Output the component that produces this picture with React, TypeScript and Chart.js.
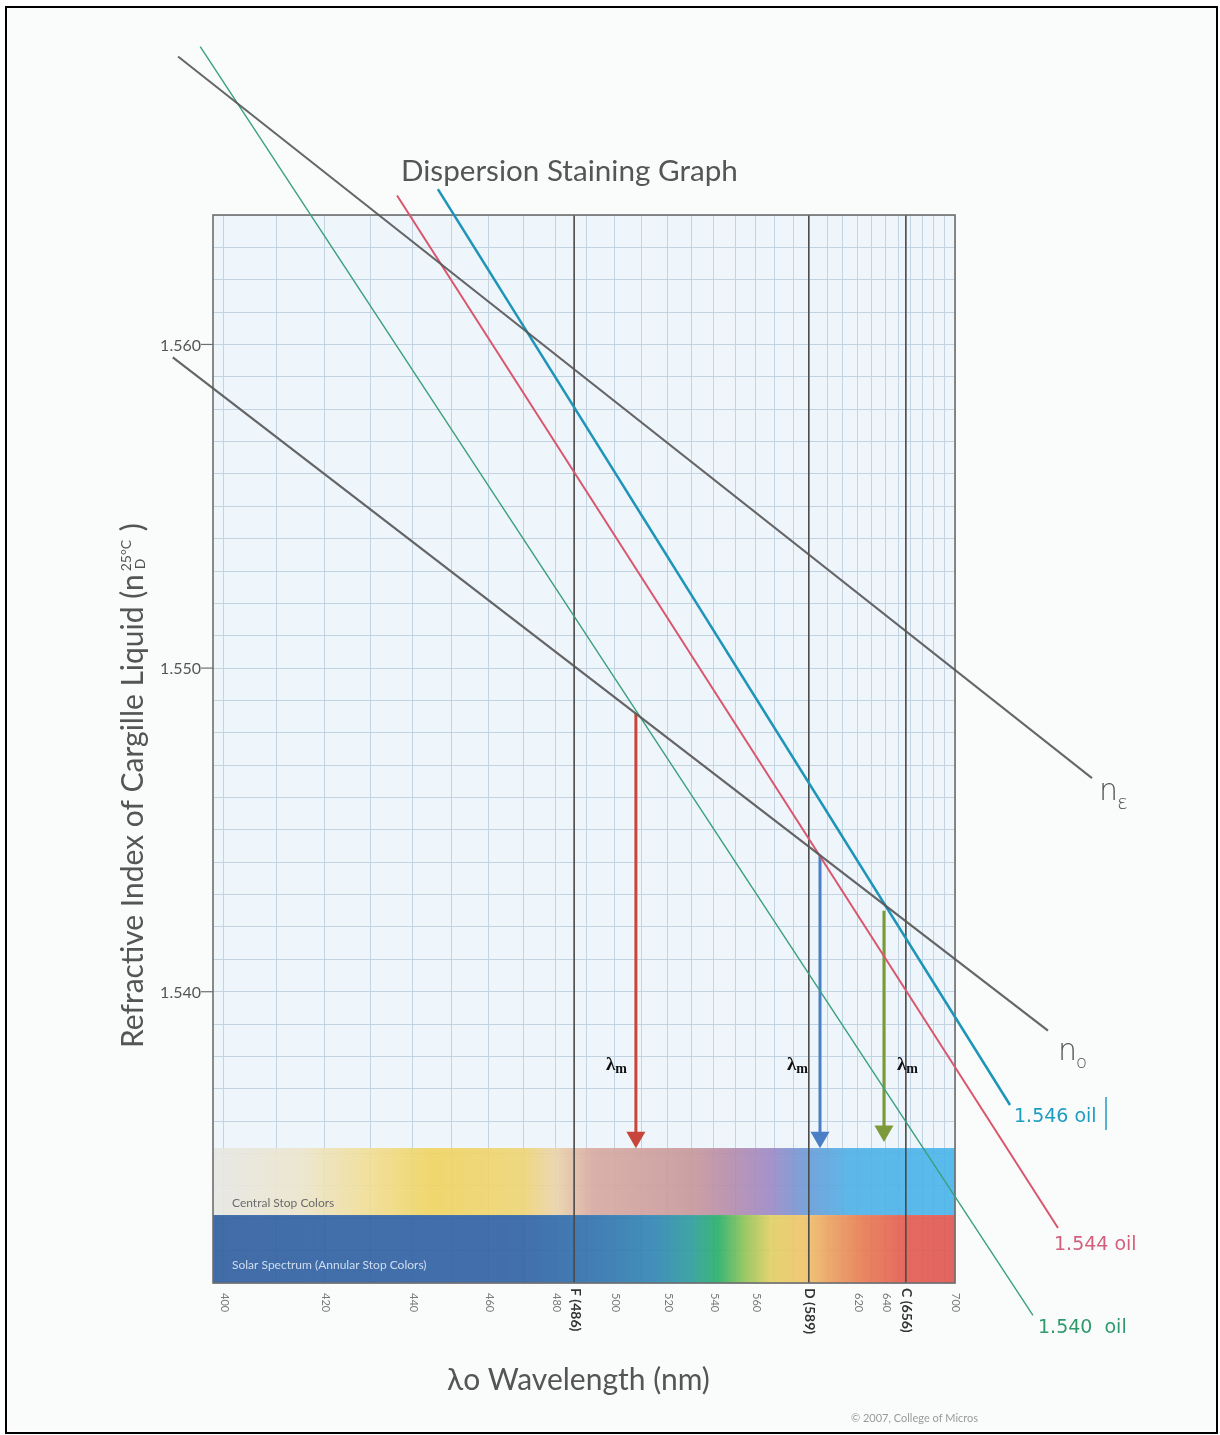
import React, { useEffect, useRef } from 'react';
import { Chart, Scale, registerables } from 'chart.js';

// ---------- data ----------
const X_MIN = 398;
const X_MAX = 700;
const Y_MIN = 1.531;
const Y_MAX = 1.564;

const GRID_WAVELENGTHS = [400, 410, 420, 430, 440, 450, 460, 470, 480, 486, 490, 500, 510, 520, 530, 540, 550, 560, 570, 580, 589, 600, 610, 620, 630, 640, 650, 656, 660, 670, 680, 690, 700];
const MARKED_WAVELENGTHS = [486, 589, 656];

const X_TICK_VALUES = [400, 420, 440, 460, 480, 500, 520, 540, 560, 620, 640, 700];
const X_TICK_LABELS = ['400', '420', '440', '460', '480', '500', '520', '540', '560', '620', '640', '700'];
const FRAUNHOFER_VALUES = [486, 589, 656];
const FRAUNHOFER_LABELS = ['F (486)', 'D (589)', 'C (656)'];

const Y_TICK_VALUES = [1.54, 1.55, 1.56];
const Y_TICK_LABELS = ['1.540', '1.550', '1.560'];

// lines: [wavelength nm, refractive index]
const N_EPSILON = [{ x: 391.8, y: 1.5689 }, { x: 893.7, y: 1.5466 }];
const N_OMEGA = [{ x: 390.9, y: 1.5596 }, { x: 815.0, y: 1.5388 }];
const OIL_1540 = [{ x: 395.7, y: 1.5692 }, { x: 792.6, y: 1.5300 }];
const OIL_1544 = [{ x: 436.3, y: 1.5646 }, { x: 831.1, y: 1.5327 }];
const OIL_1546 = [{ x: 446.4, y: 1.5648 }, { x: 761.6, y: 1.5365 }];

const ARROW_WAVELENGTHS = [507.8, 595.7, 638.9];
const ARROW_TOPS = [1.5486, 1.5442, 1.5425];
const ARROW_BOTTOMS = [1.5355, 1.5355, 1.5357];
const ARROW_COLORS = ['#c8453b', '#4a7fc6', '#7c9a3a'];

const BAND_CENTRAL_TOP = 1.53517;
const BAND_SPLIT = 1.5331;
const CENTRAL_NM = [398, 415, 430, 445, 470, 480, 492, 530, 548, 568, 589, 615, 700];
const CENTRAL_COLORS = ['#e7e7e3', '#ece5cb', '#f1dd92', '#f0d35e', '#efd474', '#ebd3aa', '#d8aaa0', '#c8979a', '#b68bab', '#9c88c6', '#679bd6', '#4db1e7', '#48b4ea'];
const SOLAR_NM = [398, 470, 492, 515, 530, 542, 555, 568, 586, 600, 625, 656, 700];
const SOLAR_COLORS = ['#2e5d9e', '#2f61a3', '#2f70ac', '#2f84b3', '#2b9c9c', '#27af66', '#94c455', '#e2cf62', '#f0c468', '#eca360', '#e8784f', '#e45a4e', '#e0564f'];

// ---------- Cauchy (1/λ²) wavelength scale ----------
const tOf = (w: number) => -1 / (w * w);

class CauchyScale extends Scale {
  static id = 'cauchy';
  static defaults = {};
  _tMin: number = 0;
  _tMax: number = 1;
  determineDataLimits() {
    const o: any = this.options;
    (this as any).min = o.min;
    (this as any).max = o.max;
  }
  buildTicks() {
    return GRID_WAVELENGTHS.map((v) => ({ value: v }));
  }
  configure() {
    super.configure();
    this._tMin = tOf((this as any).min);
    this._tMax = tOf((this as any).max);
  }
  getLabelForValue(v: number) {
    return String(v);
  }
  getPixelForValue(v: number) {
    return this.getPixelForDecimal((tOf(v) - this._tMin) / (this._tMax - this._tMin));
  }
  getValueForPixel(p: number) {
    const d = this.getDecimalForPixel(p);
    const t = this._tMin + d * (this._tMax - this._tMin);
    return 1 / Math.sqrt(-t);
  }
}

Chart.register(...registerables, CauchyScale as any);

const SANS = 'Lato, "Open Sans", sans-serif';

function fitSize(ctx: CanvasRenderingContext2D, text: string, weight: string, family: string, width: number) {
  ctx.font = `${weight} 100px ${family}`;
  return (100 * width) / ctx.measureText(text).width;
}

const paperPlugin = {
  id: 'paper',
  beforeDraw(chart: any) {
    const { ctx, chartArea: a } = chart;
    ctx.save();
    ctx.fillStyle = '#ffffff';
    ctx.fillRect(0, 0, chart.width, chart.height);
    ctx.fillStyle = '#fafcfc';
    ctx.fillRect(8, 8, 1208, 1422);
    ctx.fillStyle = '#eef5fb';
    ctx.fillRect(a.left, a.top, a.right - a.left, a.bottom - a.top);
    ctx.restore();
  },
  beforeDatasetsDraw(chart: any) {
    const { ctx, chartArea: a, scales } = chart;
    const xs = scales.x;
    const ys = scales.y;
    const w = a.right - a.left;
    const yTop = ys.getPixelForValue(BAND_CENTRAL_TOP);
    const ySplit = ys.getPixelForValue(BAND_SPLIT);
    const yBot = a.bottom;
    ctx.save();
    ctx.globalAlpha = 0.9;
    const g1 = ctx.createLinearGradient(a.left, 0, a.right, 0);
    CENTRAL_NM.forEach((nm, i) => g1.addColorStop(Math.min(1, Math.max(0, (xs.getPixelForValue(nm) - a.left) / w)), CENTRAL_COLORS[i]));
    ctx.fillStyle = g1;
    ctx.fillRect(a.left, yTop, w, ySplit - yTop);
    const g2 = ctx.createLinearGradient(a.left, 0, a.right, 0);
    SOLAR_NM.forEach((nm, i) => g2.addColorStop(Math.min(1, Math.max(0, (xs.getPixelForValue(nm) - a.left) / w)), SOLAR_COLORS[i]));
    ctx.fillStyle = g2;
    ctx.fillRect(a.left, ySplit, w, yBot - ySplit);
    ctx.globalAlpha = 1;
    // band texts
    ctx.font = `400 12px ${SANS}`;
    ctx.textBaseline = 'alphabetic';
    ctx.textAlign = 'left';
    ctx.fillStyle = '#6b6b6b';
    ctx.fillText('Central Stop Colors', a.left + 19, ySplit - 8);
    ctx.fillStyle = 'rgba(220,232,246,0.9)';
    ctx.fillText('Solar Spectrum (Annular Stop Colors)', a.left + 19, yBot - 14);
    // marked Fraunhofer lines
    ctx.strokeStyle = '#4a4a4a';
    ctx.lineWidth = 1.6;
    MARKED_WAVELENGTHS.forEach((nm) => {
      const px = xs.getPixelForValue(nm);
      ctx.beginPath();
      ctx.moveTo(px, a.top);
      ctx.lineTo(px, a.bottom);
      ctx.stroke();
    });
    // frame
    ctx.strokeStyle = '#6e6e6e';
    ctx.lineWidth = 1.6;
    ctx.strokeRect(a.left, a.top, w, a.bottom - a.top);
    // y tick marks
    ctx.lineWidth = 1.2;
    Y_TICK_VALUES.forEach((v) => {
      const py = ys.getPixelForValue(v);
      ctx.beginPath();
      ctx.moveTo(a.left - 12, py);
      ctx.lineTo(a.left, py);
      ctx.stroke();
    });
    ctx.restore();
  },
  afterDraw(chart: any) {
    const { ctx, chartArea: a, scales } = chart;
    const xs = scales.x;
    const ys = scales.y;
    ctx.save();
    ctx.textAlign = 'left';
    ctx.textBaseline = 'alphabetic';

    // title
    const tTitle = 'Dispersion Staining Graph';
    ctx.fillStyle = '#555555';
    ctx.font = `400 ${fitSize(ctx, tTitle, '400', SANS, 337)}px ${SANS}`;
    ctx.fillText(tTitle, 401, 181);

    // x title
    const tX = 'λo Wavelength (nm)';
    ctx.font = `400 ${fitSize(ctx, tX, '400', SANS, 263)}px ${SANS}`;
    ctx.fillText(tX, 447, 1390);

    // y title (rotated)
    const tY = 'Refractive Index of Cargille Liquid (n';
    const ySize = fitSize(ctx, tY, '400', SANS, 474);
    ctx.save();
    ctx.translate(143, 1048);
    ctx.rotate(-Math.PI / 2);
    ctx.font = `400 ${ySize}px ${SANS}`;
    ctx.fillText(tY, 0, 0);
    const mw = ctx.measureText(tY).width;
    ctx.font = `400 14px ${SANS}`;
    ctx.fillText('25°C', mw + 3, -12);
    ctx.fillText('D', mw + 5, 2);
    const sw = ctx.measureText('25°C').width;
    ctx.font = `400 ${ySize}px ${SANS}`;
    ctx.fillText(' )', mw + sw + 4, 0);
    ctx.restore();

    // y tick labels
    ctx.fillStyle = '#555555';
    ctx.font = `400 16px ${SANS}`;
    ctx.textAlign = 'right';
    ctx.textBaseline = 'middle';
    Y_TICK_VALUES.forEach((v, i) => {
      ctx.fillText(Y_TICK_LABELS[i], a.left - 12, ys.getPixelForValue(v) + 1);
    });

    // x tick labels rotated clockwise
    ctx.textAlign = 'left';
    ctx.textBaseline = 'middle';
    X_TICK_VALUES.forEach((v, i) => {
      const px = xs.getPixelForValue(v);
      ctx.save();
      ctx.translate(px + 1, a.bottom + 10);
      ctx.rotate(Math.PI / 2);
      ctx.fillStyle = '#7a7a7a';
      ctx.font = `400 11px ${SANS}`;
      ctx.fillText(X_TICK_LABELS[i], 0, 0);
      ctx.restore();
    });
    FRAUNHOFER_VALUES.forEach((v, i) => {
      const px = xs.getPixelForValue(v);
      ctx.save();
      ctx.translate(px + 1, a.bottom + 5);
      ctx.rotate(Math.PI / 2);
      ctx.fillStyle = '#333333';
      ctx.font = `700 14px ${SANS}`;
      ctx.fillText(FRAUNHOFER_LABELS[i], 0, 0);
      ctx.restore();
    });

    // λm labels
    ctx.textBaseline = 'alphabetic';
    ctx.fillStyle = '#111111';
    const lamOffsets = [-30, -33, 13];
    ARROW_WAVELENGTHS.forEach((nm, i) => {
      const px = xs.getPixelForValue(nm) + lamOffsets[i];
      const py = 1070;
      ctx.font = `700 19px "Liberation Serif", "DejaVu Serif", serif`;
      ctx.fillText('λ', px, py);
      const lw = ctx.measureText('λ').width;
      ctx.font = `700 14px "Liberation Serif", "DejaVu Serif", serif`;
      ctx.fillText('m', px + lw, py + 3);
    });

    // handwritten line labels
    const hand = '"DejaVu Sans", sans-serif';
    ctx.fillStyle = '#555555';
    ctx.font = `300 30px ${hand}`;
    ctx.fillText('n', 1099, 800);
    ctx.font = `300 20px ${hand}`;
    ctx.fillText('ε', 1117, 809);
    ctx.font = `300 30px ${hand}`;
    ctx.fillText('n', 1058, 1060);
    ctx.font = `300 18px ${hand}`;
    ctx.fillText('o', 1076, 1068);

    ctx.font = `400 19px ${hand}`;
    ctx.fillStyle = '#1f9cc2';
    ctx.fillText('1.546 oil', 1014, 1122);
    ctx.strokeStyle = '#1f9cc2';
    ctx.lineWidth = 1.5;
    ctx.beginPath();
    ctx.moveTo(1106, 1097);
    ctx.lineTo(1106, 1130);
    ctx.stroke();
    ctx.fillStyle = '#d45f7c';
    ctx.fillText('1.544 oil', 1054, 1250);
    ctx.fillStyle = '#2f9a6c';
    ctx.fillText('1.540  oil', 1038, 1333);

    // copyright
    ctx.fillStyle = '#9a9a9a';
    ctx.font = `400 11px ${SANS}`;
    ctx.fillText('© 2007, College of Micros', 851, 1422);

    // outer frame
    ctx.strokeStyle = '#000000';
    ctx.lineWidth = 2;
    ctx.strokeRect(6, 7, 1211, 1426);
    ctx.restore();
  },
};

export default function App() {
  const ref = useRef<HTMLCanvasElement | null>(null);
  useEffect(() => {
    document.body.style.margin = '0';
    const canvas = ref.current;
    if (!canvas) return;
    const lineDs = (label: string, data: any[], color: string, width: number) => ({
      label,
      data,
      borderColor: color,
      backgroundColor: color,
      borderWidth: width,
      pointRadius: 0,
      tension: 0,
      clip: false,
    });
    const arrowDs = ARROW_WAVELENGTHS.map((nm, i) => ({
      label: `arrow${i}`,
      data: [{ x: nm, y: ARROW_TOPS[i] }, { x: nm, y: ARROW_BOTTOMS[i] }],
      borderColor: ARROW_COLORS[i],
      backgroundColor: ARROW_COLORS[i],
      pointBackgroundColor: ARROW_COLORS[i],
      pointBorderColor: ARROW_COLORS[i],
      borderWidth: 3,
      pointRadius: [0, 8],
      pointStyle: 'triangle',
      rotation: 180,
      tension: 0,
      clip: false,
    }));
    const chart = new Chart(canvas, {
      type: 'line',
      data: {
        datasets: [
          lineDs('nε', N_EPSILON, 'rgba(85,85,85,0.9)', 2),
          lineDs('nο', N_OMEGA, 'rgba(85,85,85,0.9)', 2.2),
          lineDs('1.540 oil', OIL_1540, '#3aa07c', 1.4),
          lineDs('1.544 oil', OIL_1544, '#d9566e', 2),
          lineDs('1.546 oil', OIL_1546, '#1e94b8', 2.5),
          ...arrowDs,
        ] as any,
      },
      options: {
        responsive: false,
        maintainAspectRatio: false,
        animation: false,
        devicePixelRatio: 1,
        events: [],
        layout: { padding: { left: 213, right: 265, top: 215, bottom: 152 } },
        plugins: { legend: { display: false }, tooltip: { enabled: false }, title: { display: false } },
        scales: {
          x: {
            type: 'cauchy' as any,
            min: X_MIN,
            max: X_MAX,
            position: 'bottom',
            border: { display: false },
            ticks: { display: false },
            grid: {
              drawTicks: false,
              color: (c: any) => '#c4d3e1',
              lineWidth: 1,
            },
          } as any,
          y: {
            type: 'linear',
            min: Y_MIN,
            max: Y_MAX,
            border: { display: false },
            ticks: { display: false, stepSize: 0.001 },
            grid: { drawTicks: false, color: '#c4d3e1', lineWidth: 1 },
          },
        },
      } as any,
      plugins: [paperPlugin],
    });
    return () => chart.destroy();
  }, []);
  return <canvas ref={ref} width={1220} height={1435} style={{ display: 'block' }} />;
}
